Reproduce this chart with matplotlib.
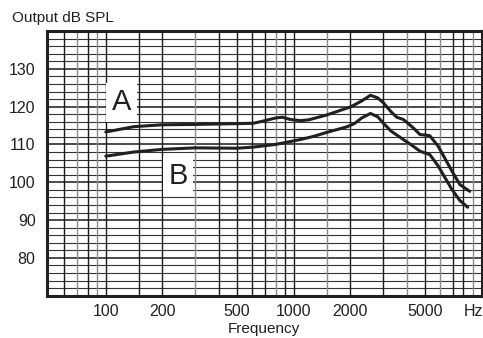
import numpy as np
import matplotlib
matplotlib.use("Agg")
import matplotlib.pyplot as plt

plt.rcParams['font.family'] = ['Liberation Sans', 'DejaVu Sans']

# curve A (frequency in Hz, output dB SPL)
freq_a = [100, 141, 200, 300, 500, 610, 690, 800, 870, 960, 1085, 1200, 1500,
          2000, 2300, 2560, 2800, 3000, 3300, 3530, 3830, 4300, 4700, 5000,
          5300, 5870, 6940, 7650, 8630]
spl_a = [113.3, 114.7, 115.2, 115.3, 115.5, 115.6, 116.2, 117.0, 117.2, 116.6,
         116.3, 116.5, 117.8, 119.9, 121.5, 123.0, 122.3, 121.0, 118.6, 117.2,
         116.6, 114.5, 112.6, 112.5, 112.3, 109.5, 103.0, 99.4, 97.6]

# curve B
freq_b = [100, 141, 200, 300, 500, 610, 800, 1085, 1290, 1500, 1900, 2100,
          2300, 2560, 2800, 3000, 3300, 3830, 4300, 4700, 5100, 5300, 5870,
          6940, 7650, 8420]
spl_b = [106.9, 108.0, 108.7, 109.1, 109.0, 109.3, 110.0, 111.3, 112.2, 113.2,
         114.6, 115.5, 117.0, 118.2, 117.3, 115.6, 113.5, 111.3, 109.6, 108.2,
         107.6, 107.3, 104.3, 98.1, 95.2, 93.4]

x_ticks = [100, 200, 500, 1000, 2000, 5000, 9000]
x_labels = ["100", "200", "500", "1000", "2000", "5000", "Hz"]
y_ticks = [80, 90, 100, 110, 120, 130]

v_dark = [60, 80, 100, 150, 200, 400, 500, 600, 700, 900, 1000, 2000, 3000,
          5000, 7000, 8000]
v_gray = [70, 90, 300, 800, 1500, 4000, 6000, 9000]
h_lines = list(range(72, 140, 2))

ink = '#231f20'

fig = plt.figure(figsize=(4.83, 3.38), dpi=100)
ax = fig.add_axes([0.0967, 0.1251, 0.9006, 0.7832])
ax.set_xscale('log')
ax.set_xlim(48.5, 10000)
ax.set_ylim(70, 140)

for h in h_lines:
    if h % 10 == 0:
        ax.axhline(h, color='#1a1a1a', lw=1.1, zorder=1)
    else:
        ax.axhline(h, color='#333333', lw=0.8, zorder=1)
for v in v_dark:
    ax.axvline(v, color='#1a1a1a', lw=1.0, zorder=1)
for v in v_gray:
    ax.axvline(v, color='#8a8a8a', lw=1.0, zorder=1)

ax.plot(freq_a, spl_a, color=ink, lw=2.2, zorder=3, solid_capstyle='round')
ax.plot(freq_b, spl_b, color=ink, lw=2.2, zorder=3, solid_capstyle='round')

ax.text(121, 121.2, "A", fontsize=21, color=ink, ha='center', va='center', zorder=4,
        bbox=dict(facecolor='white', edgecolor='none', pad=4))
ax.text(243, 101.6, "B", fontsize=21, color=ink, ha='center', va='center', zorder=4,
        bbox=dict(facecolor='white', edgecolor='none', pad=4))

ax.set_xticks(x_ticks)
ax.set_xticklabels(x_labels)
ax.xaxis.set_minor_locator(matplotlib.ticker.NullLocator())
ax.set_yticks(y_ticks)
ax.tick_params(length=0, labelsize=11.5, colors=ink, pad=8)
ax.tick_params(axis='x', pad=6)
ax.set_xlabel("Frequency", fontsize=11, color=ink, labelpad=2)

for s in ax.spines.values():
    s.set_linewidth(2.2)
    s.set_color(ink)
    s.set_zorder(5)

fig.text(0.025, 0.948, "Output dB SPL", fontsize=11, color=ink, ha='left', va='center')

fig.savefig("out.png", dpi=100)
